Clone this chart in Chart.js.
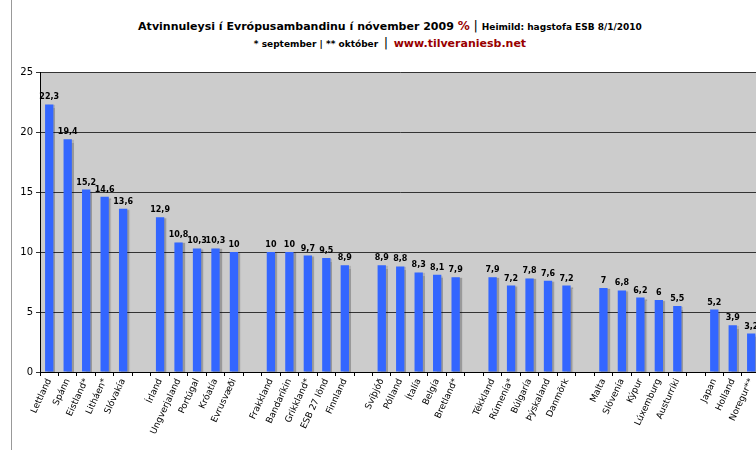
<!DOCTYPE html>
<html><head><meta charset="utf-8">
<script src="https://cdn.jsdelivr.net/npm/chart.js@4/dist/chart.umd.min.js"></script>
<style>
html,body{margin:0;padding:0;background:#fff;overflow:hidden;width:756px;height:450px;}
#wrap{position:absolute;left:0;top:0;width:762px;height:450px;}
#frame{position:absolute;left:11px;top:0;width:1px;height:450px;background:#999;}
.t{position:absolute;left:0;width:756px;text-align:center;font-family:"DejaVu Sans",Verdana,sans-serif;font-weight:bold;color:#000;white-space:nowrap;}
.red{color:#990000;}
</style></head>
<body>
<div id="frame"></div>
<div class="t" style="top:18px;font-size:11px;left:12px;">Atvinnuleysi í Evrópusambandinu í nóvember 2009 <span class="red" style="font-size:12px;">%</span> <span style="font-size:13px;font-weight:normal;">|</span> <span style="font-size:9px;">Heimild: hagstofa ESB 8/1/2010</span></div>
<div class="t" style="top:32px;left:12px;"><span style="font-size:9px;">* september | ** október</span> <span style="font-size:13px;font-weight:normal;">|</span> <span class="red" style="font-size:11px;">www.tilveraniesb.net</span></div>
<div id="wrap"><canvas id="c" width="762" height="450"></canvas></div>
<script>
const categories = ["Lettland","Spánn","Eistland*","Litháen*","Slóvakía","",
 "Írland","Ungverjaland","Portúgal","Króatía","Evrusvæði","",
 "Frakkland","Bandaríkin","Grikkland*","ESB 27 lönd","Finnland","",
 "Svíþjóð","Pólland","Ítalía","Belgía","Bretland*","",
 "Tékkland","Rúmenía*","Búlgaría","Þýskaland","Danmörk","",
 "Malta","Slóvenía","Kýpur","Lúxemburg","Austurríki","",
 "Japan","Holland","Noregur**"];
const unemployment = [22.3,19.4,15.2,14.6,13.6,null,
 12.9,10.8,10.3,10.3,10,null,
 10,10,9.7,9.5,8.9,null,
 8.9,8.8,8.3,8.1,7.9,null,
 7.9,7.2,7.8,7.6,7.2,null,
 7,6.8,6.2,6,5.5,null,
 5.2,3.9,3.2];
const yTicks = [0,5,10,15,20,25];

const FONT = '"DejaVu Sans", Verdana, sans-serif';

const plotBg = {
  id:'plotBg',
  beforeDraw(chart){
    const {ctx, chartArea:a} = chart;
    ctx.save(); ctx.fillStyle='#cccccc';
    ctx.fillRect(a.left,a.top,a.right-a.left,a.bottom-a.top);
    ctx.restore();
  }
};
const shadow = {
  id:'shadow',
  beforeDatasetDraw(chart){
    const ctx=chart.ctx; ctx.save();
    ctx.shadowColor='rgba(0,0,0,0.25)'; ctx.shadowOffsetX=2; ctx.shadowOffsetY=1; ctx.shadowBlur=1;
  },
  afterDatasetDraw(chart){ chart.ctx.restore(); }
};
const valueLabels = {
  id:'valueLabels',
  afterDatasetsDraw(chart){
    const ctx=chart.ctx; const meta=chart.getDatasetMeta(0);
    ctx.save(); ctx.font='bold 8px '+FONT; ctx.fillStyle='#000';
    ctx.textAlign='center'; ctx.textBaseline='bottom';
    meta.data.forEach((bar,i)=>{
      const v=unemployment[i]; if(v==null) return;
      ctx.fillText(String(v).replace('.',','), bar.x, bar.y-3);
    });
    ctx.restore();
  }
};

new Chart(document.getElementById('c'),{
  type:'bar',
  data:{labels:categories,datasets:[{data:unemployment,backgroundColor:'#3366ff',borderWidth:0,
    barPercentage:0.45,categoryPercentage:1}]},
  options:{
    responsive:false,animation:false,
    layout:{padding:{top:72,left:0,right:0,bottom:0}},
    plugins:{legend:{display:false},tooltip:{enabled:false}},
    scales:{
      x:{
        offset:true,
        grid:{offset:true,drawOnChartArea:false,drawTicks:true,tickLength:4,color:'#000'},
        border:{color:'#000',width:1},
        ticks:{font:{family:FONT,size:9},color:'#000',minRotation:65,maxRotation:65,autoSkip:false,padding:1},
        afterFit(s){s.height=78;}
      },
      y:{
        min:0,max:25,
        afterBuildTicks(s){s.ticks=yTicks.map(v=>({value:v}));},
        grid:{color:'#333',lineWidth:1,tickLength:4,drawTicks:true},
        border:{color:'#000',width:1},
        ticks:{font:{family:FONT,size:10},color:'#000',padding:3},
        afterFit(s){s.width=40;}
      }
    }
  },
  plugins:[plotBg,shadow,valueLabels]
});
</script>
</body></html>
